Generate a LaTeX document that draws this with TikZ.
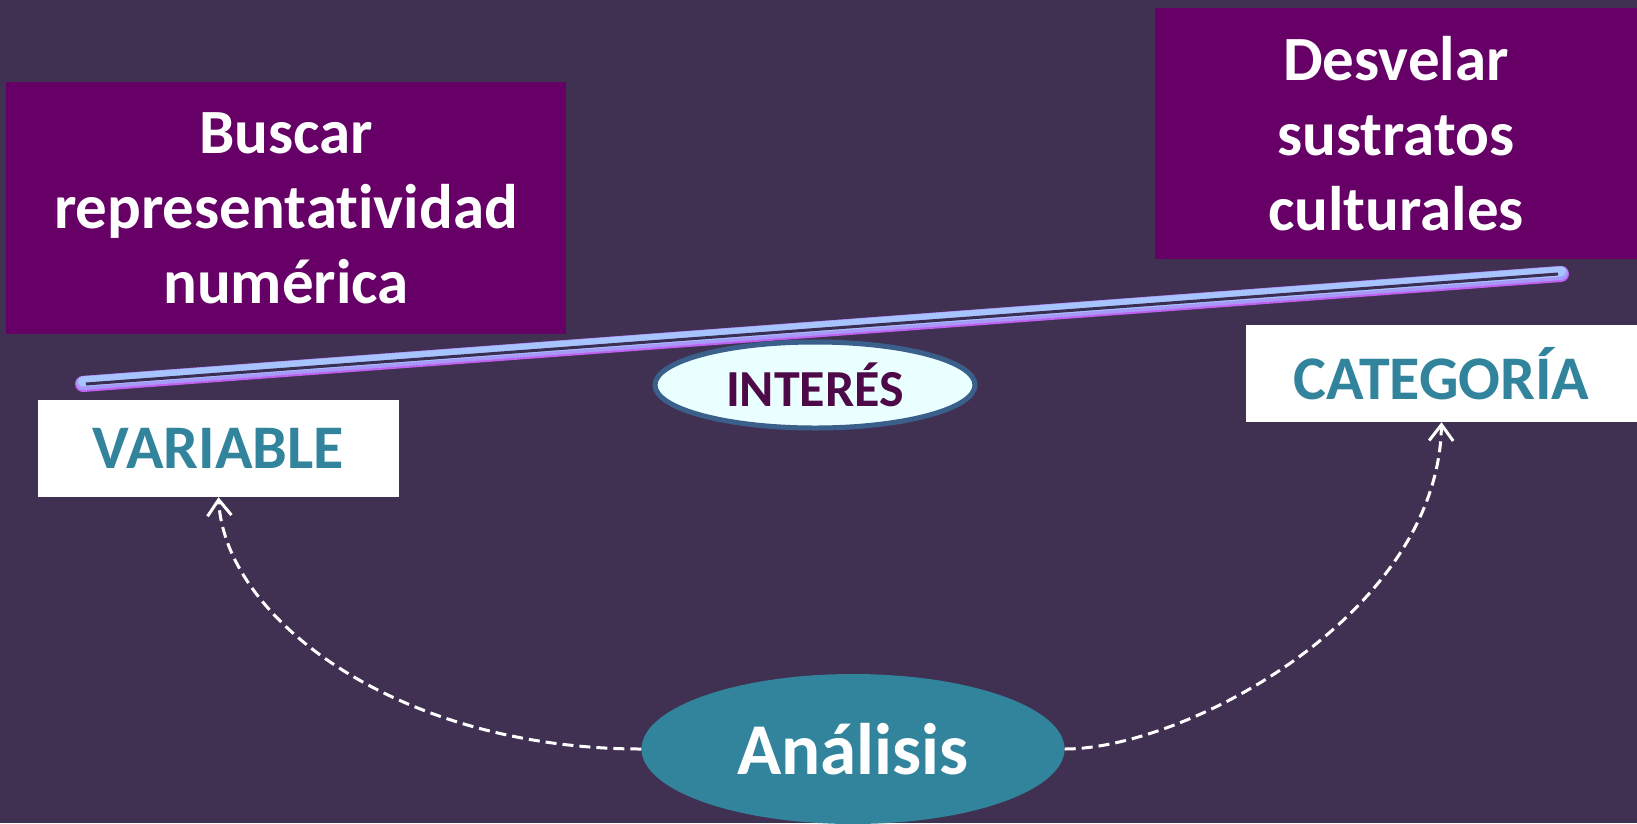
\documentclass[tikz,border=0pt]{standalone}
\usepackage{fontspec}
\setmainfont{Carlito}[Ligatures={NoCommon}]
\usetikzlibrary{arrows.meta,shapes.geometric}
\definecolor{bg}{HTML}{403152}
\definecolor{plum}{HTML}{660066}
\definecolor{tealc}{HTML}{31849B}
\definecolor{interfill}{HTML}{EAFFFF}
\definecolor{interline}{HTML}{3A5F8A}
\definecolor{intertext}{HTML}{4E0A48}
\definecolor{beamlow}{HTML}{C060F0}
\definecolor{beammid}{HTML}{A898F8}
\definecolor{beamhigh}{HTML}{A8C4FF}
\definecolor{beamcore}{HTML}{3C2D52}
\tikzset{
  purplebox/.style={rectangle, fill=plum, inner sep=0pt, align=center, text=white,
    font=\fontsize{63}{75}\selectfont\bfseries},
  whitebox/.style={rectangle, fill=white, inner sep=0pt, text=tealc,
    font=\fontsize{62}{70}\selectfont\bfseries},
  interes/.style={ellipse, fill=interfill, draw=interline, line width=5pt, inner sep=0pt,
    text=intertext, font=\fontsize{52}{60}\selectfont\bfseries},
  analisis/.style={ellipse, fill=tealc, inner sep=0pt, text=white,
    font=\fontsize{73}{80}\selectfont\bfseries},
  dasharrow/.style={draw=white, line width=3pt, dash pattern=on 11pt off 6pt,
    -{Straight Barb[length=16pt,width=24pt,line width=3pt]}}
}
\begin{document}
\begin{tikzpicture}[x=1pt,y=-1pt]
\useasboundingbox (0,0) rectangle (1637,823);
\fill[bg] (0,0) rectangle (1637,823);

% boxes
\node[purplebox, minimum width=560, minimum height=252] (buscar) at (286,208)
  {Buscar\\representatividad\\numérica};
\node[purplebox, minimum width=482, minimum height=251] (desvelar) at (1396,133.5)
  {Desvelar\\sustratos\\culturales};
\node[whitebox, minimum width=361, minimum height=97] (variable) at (218.5,448.5) {VARIABLE};
\node[whitebox, minimum width=391, minimum height=97] (categoria) at (1441.5,373.5) {CATEGORÍA};

% beam
\coordinate (bl) at (83,384);
\coordinate (br) at (1561,274);
\draw[beamlow, line width=16pt, line cap=round] (bl) -- (br);
\draw[beammid, line width=14pt, line cap=round] ([yshift=1pt]bl) -- ([yshift=1pt]br);
\draw[beamhigh, line width=10pt, line cap=round] ([yshift=2.5pt]bl) -- ([yshift=2.5pt]br);
\draw[beamcore, line width=3pt] ([xshift=3pt]bl) -- ([xshift=-3pt]br);

% ellipses
\node[interes, minimum width=320, minimum height=86] (interes) at (815,385) {INTERÉS};
\node[analisis, minimum width=423, minimum height=150] (analisis) at (853,749) {Análisis};

% connectors
\draw[dasharrow] (analisis.west) .. controls (400,749) and (225,620) .. (variable.south);
\draw[dasharrow] (analisis.east) .. controls (1185,749) and (1438,615) .. (categoria.south);
\end{tikzpicture}
\end{document}
